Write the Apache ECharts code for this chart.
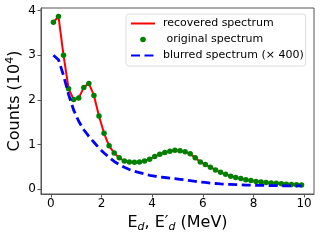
<!DOCTYPE html>
<html><head><meta charset="utf-8">
<script src="https://cdn.jsdelivr.net/npm/echarts@6/dist/echarts.min.js"></script>
<style>html,body{margin:0;padding:0;background:#fff}#c{width:320px;height:240px}</style>
</head><body><div id="c"></div>
<script>
const energies = [0.1,0.3,0.5,0.7,0.9,1.1,1.3,1.5,1.7,1.9,2.1,2.3,2.5,2.7,2.9,3.1,3.3,3.5,3.7,3.9,4.1,4.3,4.5,4.7,4.9,5.1,5.3,5.5,5.7,5.9,6.1,6.3,6.5,6.7,6.9,7.1,7.3,7.5,7.7,7.9,8.1,8.3,8.5,8.7,8.9,9.1,9.3,9.5,9.7,9.9];
const recovered = [3.74,3.87,3.00,2.25,2.01,2.04,2.28,2.37,2.10,1.64,1.25,0.97,0.81,0.70,0.63,0.61,0.60,0.61,0.63,0.67,0.73,0.78,0.82,0.85,0.87,0.86,0.84,0.79,0.70,0.61,0.55,0.49,0.43,0.38,0.33,0.29,0.26,0.24,0.21,0.195,0.17,0.16,0.15,0.135,0.13,0.12,0.11,0.105,0.10,0.09];
const original = [3.74,3.87,3.00,2.25,2.01,2.04,2.28,2.37,2.10,1.64,1.25,0.97,0.81,0.70,0.63,0.61,0.60,0.61,0.63,0.67,0.73,0.78,0.82,0.85,0.87,0.86,0.84,0.79,0.70,0.61,0.55,0.49,0.43,0.38,0.33,0.29,0.26,0.24,0.21,0.195,0.17,0.16,0.15,0.135,0.13,0.12,0.11,0.105,0.10,0.09];
const blurred = [3.00,2.90,2.55,2.12,1.77,1.52,1.33,1.18,1.05,0.92,0.81,0.71,0.62,0.55,0.49,0.44,0.40,0.37,0.34,0.31,0.29,0.27,0.26,0.245,0.235,0.22,0.205,0.19,0.175,0.16,0.15,0.135,0.125,0.115,0.11,0.105,0.10,0.095,0.09,0.088,0.085,0.083,0.08,0.078,0.076,0.075,0.074,0.073,0.072,0.07];
const xTicks = [0,2,4,6,8,10];
const yTicks = [0,1,2,3,4];
const seriesNames = ['recovered spectrum',' original spectrum','blurred spectrum (× 400)'];

const pairs = ys => energies.map((x,i)=>[x, ys[i]]);
const font = 'DejaVu Sans';
const axisCol = '#555';
const chart = echarts.init(document.getElementById('c'), null, {renderer:'canvas'});
chart.setOption({
  animation:false,
  grid:{left:41, right:6, top:8, bottom:46, show:true, borderColor:axisCol, borderWidth:1, containLabel:false, outerBoundsMode:'none'},
  xAxis:{type:'value', min:-0.39, max:10.39,
    axisLine:{show:true, onZero:false, lineStyle:{color:axisCol}},
    axisTick:{show:true, length:3.5, customValues:xTicks, lineStyle:{color:axisCol}},
    axisLabel:{customValues:xTicks, color:'#000', fontFamily:font, fontSize:12, margin:4},
    splitLine:{show:false},
    name:'E{s|d}, E′{s|d} (MeV)', nameLocation:'middle', nameGap:17,
    nameTextStyle:{color:'#000', fontFamily:font, fontSize:16, verticalAlign:'top',
      rich:{s:{fontFamily:font, fontStyle:'italic', fontSize:11, padding:[8,0,0,0]}}}
  },
  yAxis:{type:'value', min:-0.11, max:4.06,
    axisLine:{show:true, onZero:false, lineStyle:{color:axisCol}},
    axisTick:{show:true, length:3.5, customValues:yTicks, lineStyle:{color:axisCol}},
    axisLabel:{customValues:yTicks, color:'#000', fontFamily:font, fontSize:12, margin:5},
    splitLine:{show:false},
    name:'Counts (10{p|4})', nameLocation:'middle', nameGap:16, nameRotate:90, nameMoveOverlap:false,
    nameTextStyle:{color:'#000', fontFamily:font, fontSize:16,
      rich:{p:{fontFamily:font, fontSize:11, padding:[0,0,9,0]}}}
  },
  legend:{orient:'vertical', left:126, top:14,
    backgroundColor:'rgba(255,255,255,0.85)', borderColor:'#dcdcdc', borderWidth:1, borderRadius:3,
    padding:[4,2,5,4], itemWidth:24, itemHeight:7, itemGap:5,
    textStyle:{fontFamily:font, fontSize:11, color:'#000', padding:[0,0,0,3]},
    data:[
      {name:seriesNames[0], itemStyle:{opacity:0}},
      {name:seriesNames[1]},
      {name:seriesNames[2], itemStyle:{opacity:0}}
    ]},
  series:[
    {name:seriesNames[0], type:'line', data:pairs(recovered), symbol:'none', z:2,
      lineStyle:{color:'#ff0000', width:2}, itemStyle:{color:'#ff0000'}},
    {name:seriesNames[1], type:'line', data:pairs(original), symbol:'circle', symbolSize:5.5, showSymbol:true, showAllSymbol:true, z:3,
      lineStyle:{width:0, opacity:0}, itemStyle:{color:'#008000'}},
    {name:seriesNames[2], type:'line', data:pairs(blurred), symbol:'none', z:4,
      lineStyle:{color:'#0000ff', width:2.8, type:[9,4.5]}, itemStyle:{color:'#0000ff'}}
  ]
});
</script></body></html>
